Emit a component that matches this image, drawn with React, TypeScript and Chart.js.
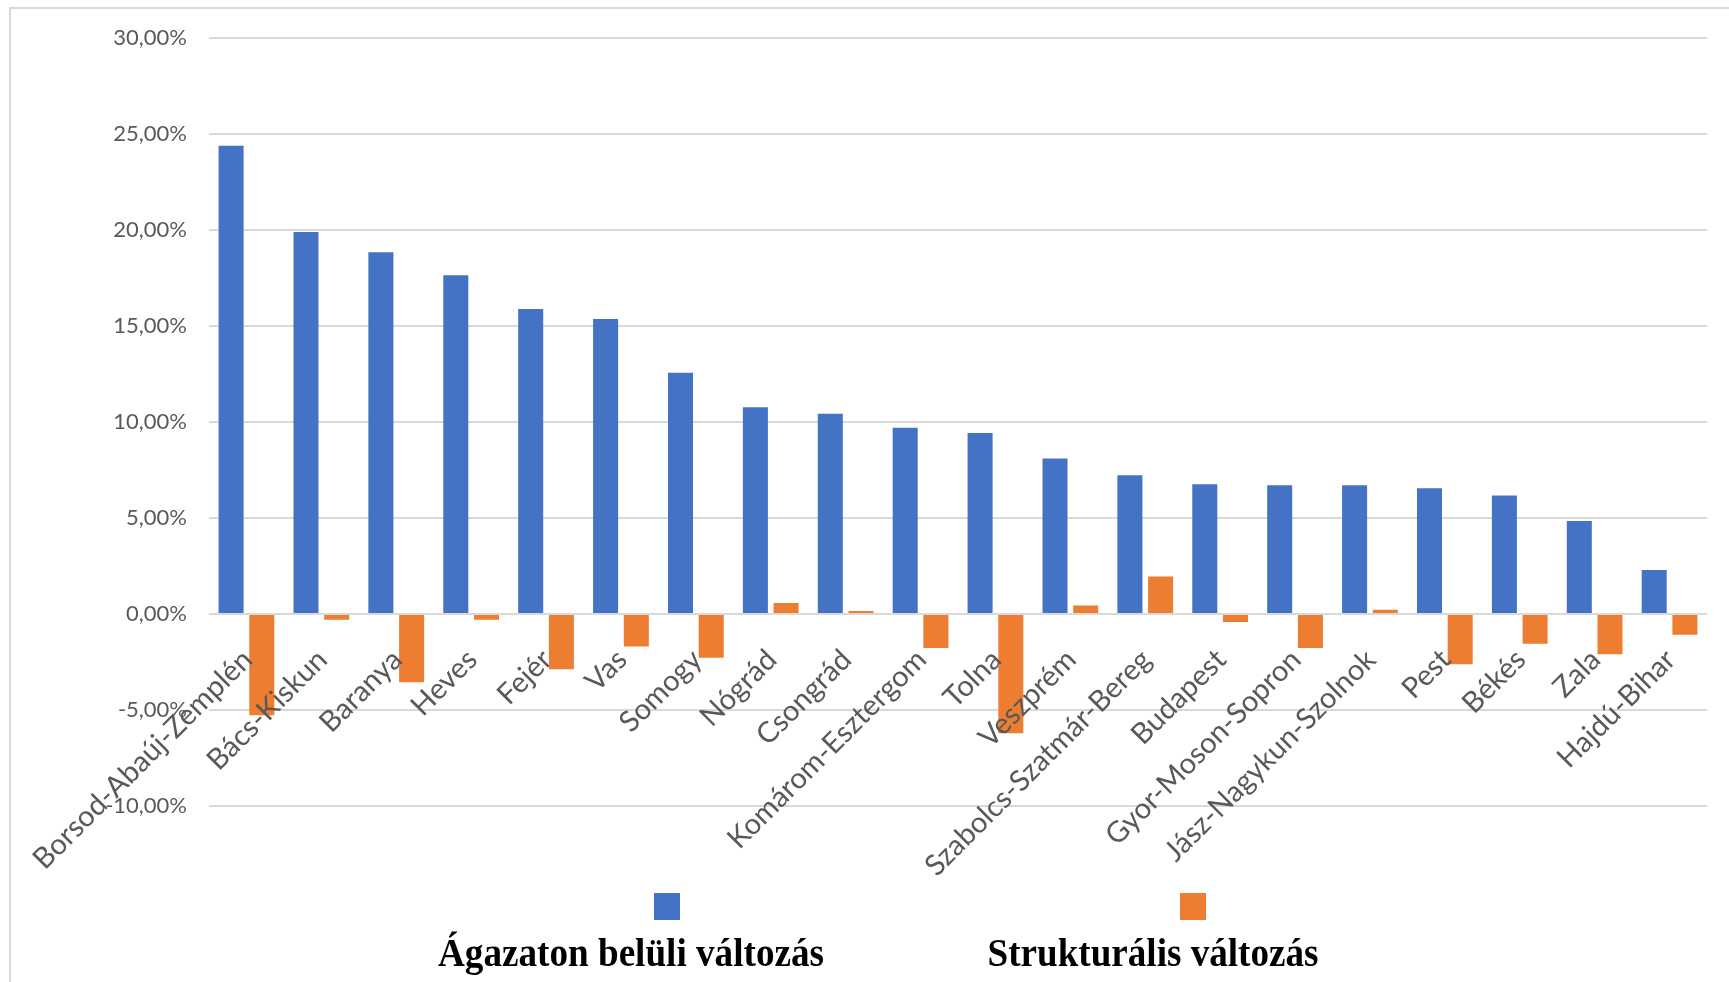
import React, { useEffect, useRef } from "react";
import { Chart, registerables } from "chart.js";

Chart.register(...registerables);

// Counties, ordered by the within-sector change
const counties = [
  "Borsod-Abaúj-Zemplén",
  "Bács-Kiskun",
  "Baranya",
  "Heves",
  "Fejér",
  "Vas",
  "Somogy",
  "Nógrád",
  "Csongrád",
  "Komárom-Esztergom",
  "Tolna",
  "Veszprém",
  "Szabolcs-Szatmár-Bereg",
  "Budapest",
  "Gyor-Moson-Sopron",
  "Jász-Nagykun-Szolnok",
  "Pest",
  "Békés",
  "Zala",
  "Hajdú-Bihar",
];

// Values in percent
const withinSector = [
  24.36, 19.88, 18.82, 17.62, 15.87, 15.35, 12.55, 10.76, 10.42, 9.69,
  9.41, 8.09, 7.22, 6.75, 6.7, 6.7, 6.54, 6.16, 4.83, 2.29,
];
const structural = [
  -5.28, -0.3, -3.56, -0.3, -2.88, -1.7, -2.29, 0.56, 0.15, -1.77,
  -6.21, 0.43, 1.95, -0.42, -1.77, 0.21, -2.62, -1.56, -2.1, -1.09,
];

const seriesNames = ["Ágazaton belüli változás", "Strukturális változás"];
const seriesColors = ["#4472C4", "#ED7D31"];

const axisMin = -10;
const axisMax = 30;
const axisStep = 5;

const W = 1729;
const H = 982;
const LABEL_GRAY = "#595959";

const fmtPercent = (v: number) => v.toFixed(2).replace(".", ",") + "%";

// Category names sit just under the zero line, rotated 45°
const categoryLabels = {
  id: "categoryLabels",
  afterDatasetsDraw(chart: any) {
    const { ctx } = chart;
    const xs = chart.scales.x;
    const ys = chart.scales.y;
    const y0 = ys.getPixelForValue(0);
    ctx.save();
    ctx.font = "29px Lato";
    ctx.fillStyle = LABEL_GRAY;
    ctx.textAlign = "right";
    ctx.textBaseline = "middle";
    counties.forEach((name, i) => {
      const px = xs.getPixelForValue(i);
      ctx.save();
      ctx.translate(px + 1, y0 + 41);
      ctx.rotate(-Math.PI / 4);
      ctx.fillText(name, 0, 0);
      ctx.restore();
    });
    ctx.restore();
  },
};

// Legend: colour square with the series name underneath
const legendBlock = {
  id: "legendBlock",
  afterDraw(chart: any) {
    const { ctx } = chart;
    const items = [
      { boxX: 654, textX: 631, width: 386 },
      { boxX: 1180, textX: 1153, width: 331 },
    ];
    ctx.save();
    items.forEach((it, i) => {
      ctx.fillStyle = seriesColors[i];
      ctx.fillRect(it.boxX, 893, 26, 27);
      ctx.fillStyle = "#000000";
      ctx.font = "bold 41px 'Liberation Serif'";
      ctx.textAlign = "center";
      ctx.textBaseline = "alphabetic";
      ctx.fillText(seriesNames[i], it.textX, 966, it.width);
    });
    ctx.restore();
  },
};

export default function App() {
  const canvasRef = useRef<HTMLCanvasElement | null>(null);

  useEffect(() => {
    const canvas = canvasRef.current;
    if (!canvas) return;
    const chart = new Chart(canvas, {
      type: "bar",
      data: {
        labels: counties,
        datasets: [
          {
            label: seriesNames[0],
            data: withinSector,
            backgroundColor: seriesColors[0],
            borderWidth: 0,
            categoryPercentage: 0.82,
            barPercentage: 0.815,
          },
          {
            label: seriesNames[1],
            data: structural,
            backgroundColor: seriesColors[1],
            borderWidth: 0,
            categoryPercentage: 0.82,
            barPercentage: 0.815,
          },
        ],
      },
      options: {
        responsive: false,
        animation: false,
        devicePixelRatio: 1,
        layout: { padding: { top: 37.5, right: 22, bottom: 176, left: 0 } },
        plugins: {
          legend: { display: false },
          tooltip: { enabled: false },
        },
        scales: {
          x: {
            display: false,
            offset: true,
            grid: { display: false },
          },
          y: {
            min: axisMin,
            max: axisMax,
            ticks: {
              stepSize: axisStep,
              padding: 22,
              color: LABEL_GRAY,
              font: { family: "Lato", size: 22 },
              callback: (v: any) => fmtPercent(Number(v)),
            },
            grid: { color: "#D9D9D9", lineWidth: 2, drawTicks: false },
            border: { display: false },
            afterFit: (scale: any) => {
              scale.width = 209;
            },
          },
        },
      },
      plugins: [categoryLabels, legendBlock],
    });
    return () => chart.destroy();
  }, []);

  return (
    <div
      style={{
        position: "fixed",
        left: 0,
        top: 0,
        width: W,
        height: H,
        overflow: "hidden",
        background: "#ffffff",
      }}
    >
      <div
        style={{
          position: "absolute",
          left: 9,
          top: 7,
          width: W + 50,
          height: H + 50,
          borderTop: "2px solid #D9D9D9",
          borderLeft: "2px solid #D9D9D9",
        }}
      />
      <canvas
        ref={canvasRef}
        width={W}
        height={H}
        style={{ position: "absolute", left: 0, top: 0, width: W, height: H }}
      />
    </div>
  );
}
